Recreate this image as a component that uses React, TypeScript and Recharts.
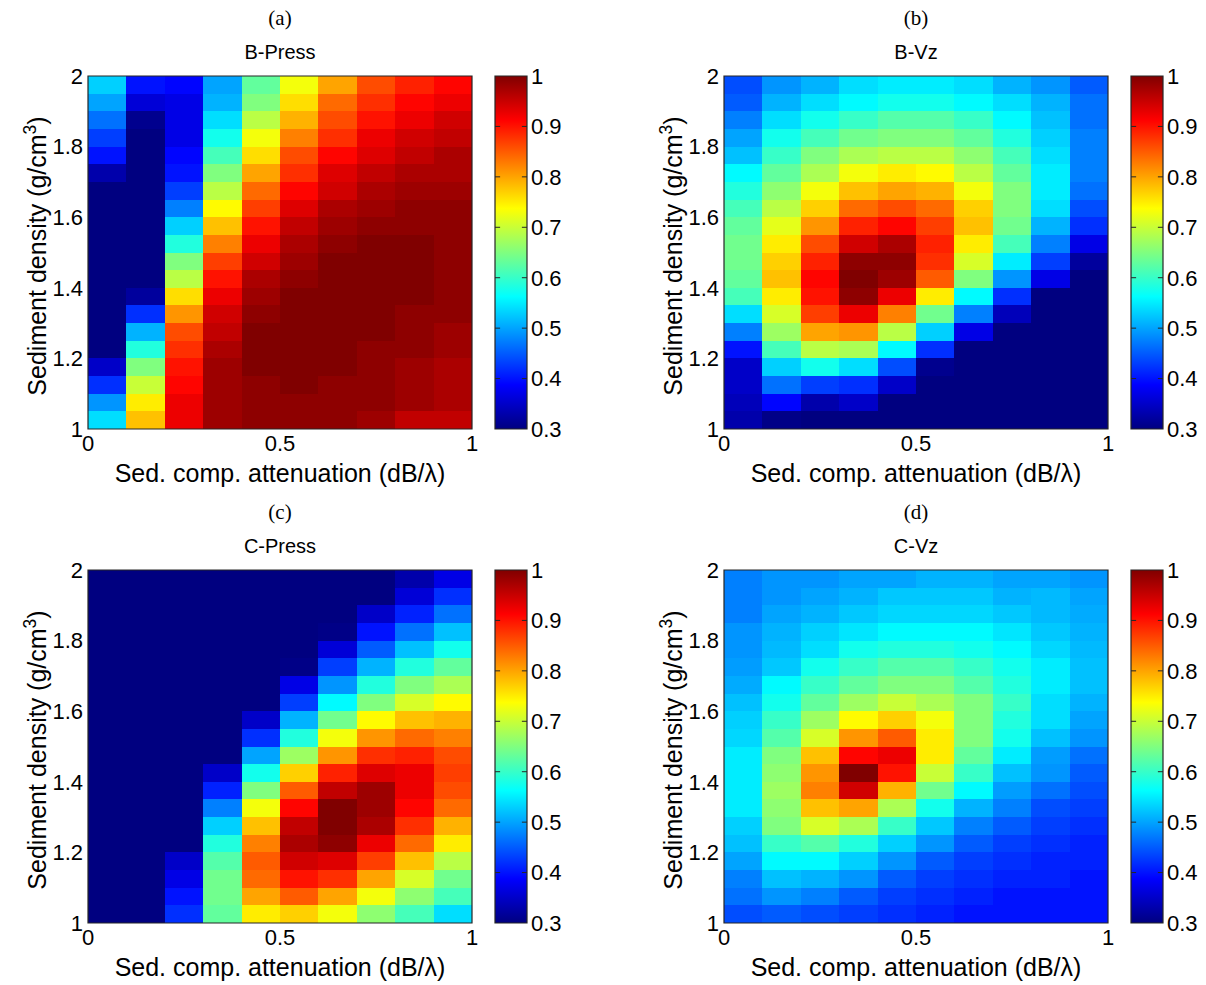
import { ComposedChart, XAxis, YAxis, ReferenceArea, ReferenceLine } from "recharts";

// column edges (sed. comp. attenuation, dB/lambda) and row edges (density, g/cm3, top -> bottom)
const attenuationEdges = [0, 0.1, 0.2, 0.3, 0.4, 0.5, 0.6, 0.7, 0.8, 0.9, 1];
const densityEdges = [2, 1.95, 1.9, 1.85, 1.8, 1.75, 1.7, 1.65, 1.6, 1.55, 1.5, 1.45, 1.4, 1.35, 1.3, 1.25, 1.2, 1.15, 1.1, 1.05, 1];

const xTicks = [0, 0.5, 1];
const yTicks = [1, 1.2, 1.4, 1.6, 1.8, 2];
const cbarTicks = [0.3, 0.4, 0.5, 0.6, 0.7, 0.8, 0.9, 1];

// normalised correlation, rows from density 2 (top) down to density 1 (bottom)
const bPress = [
  [0.53, 0.4, 0.39, 0.5, 0.63, 0.73, 0.8, 0.86, 0.89, 0.91],
  [0.5, 0.36, 0.37, 0.51, 0.65, 0.76, 0.84, 0.88, 0.91, 0.925],
  [0.465, 0.31, 0.37, 0.54, 0.69, 0.79, 0.86, 0.9, 0.925, 0.945],
  [0.43, 0.3, 0.37, 0.575, 0.73, 0.825, 0.88, 0.925, 0.945, 0.955],
  [0.4, 0.3, 0.39, 0.61, 0.76, 0.86, 0.91, 0.935, 0.955, 0.97],
  [0.33, 0.3, 0.4, 0.65, 0.8, 0.88, 0.935, 0.955, 0.97, 0.97],
  [0.3, 0.3, 0.43, 0.69, 0.84, 0.91, 0.945, 0.97, 0.98, 0.98],
  [0.3, 0.3, 0.475, 0.74, 0.87, 0.935, 0.97, 0.98, 0.99, 0.99],
  [0.3, 0.3, 0.53, 0.78, 0.9, 0.955, 0.98, 0.99, 0.99, 0.99],
  [0.3, 0.3, 0.585, 0.825, 0.925, 0.97, 0.99, 1, 1, 0.99],
  [0.3, 0.3, 0.65, 0.87, 0.945, 0.98, 1, 1, 1, 0.99],
  [0.3, 0.3, 0.69, 0.9, 0.97, 0.99, 1, 1, 1, 0.99],
  [0.3, 0.32, 0.76, 0.925, 0.98, 1, 1, 1, 1, 0.99],
  [0.3, 0.42, 0.81, 0.945, 0.99, 1, 1, 1, 0.99, 0.99],
  [0.3, 0.51, 0.86, 0.955, 1, 1, 1, 1, 0.99, 0.98],
  [0.3, 0.585, 0.88, 0.97, 1, 1, 1, 0.99, 0.99, 0.98],
  [0.35, 0.65, 0.9, 0.98, 1, 1, 1, 0.99, 0.98, 0.97],
  [0.42, 0.7, 0.91, 0.98, 0.99, 1, 0.99, 0.99, 0.98, 0.97],
  [0.49, 0.75, 0.925, 0.98, 0.99, 0.99, 0.99, 0.99, 0.98, 0.97],
  [0.54, 0.78, 0.925, 0.98, 0.99, 0.99, 0.99, 0.98, 0.955, 0.955],
];

const bVz = [
  [0.44, 0.49, 0.51, 0.54, 0.55, 0.55, 0.54, 0.51, 0.49, 0.45],
  [0.45, 0.51, 0.54, 0.56, 0.575, 0.575, 0.56, 0.54, 0.51, 0.465],
  [0.475, 0.54, 0.575, 0.6, 0.62, 0.62, 0.6, 0.56, 0.52, 0.465],
  [0.5, 0.575, 0.61, 0.64, 0.65, 0.65, 0.63, 0.585, 0.53, 0.475],
  [0.52, 0.6, 0.65, 0.68, 0.69, 0.69, 0.66, 0.61, 0.54, 0.475],
  [0.56, 0.63, 0.68, 0.73, 0.75, 0.74, 0.69, 0.63, 0.55, 0.475],
  [0.585, 0.66, 0.73, 0.78, 0.8, 0.79, 0.73, 0.65, 0.55, 0.465],
  [0.61, 0.69, 0.77, 0.84, 0.86, 0.84, 0.77, 0.65, 0.54, 0.44],
  [0.63, 0.72, 0.81, 0.89, 0.91, 0.87, 0.78, 0.64, 0.51, 0.42],
  [0.64, 0.75, 0.86, 0.945, 0.97, 0.89, 0.75, 0.61, 0.475, 0.37],
  [0.64, 0.77, 0.89, 0.99, 0.99, 0.88, 0.71, 0.55, 0.43, 0.32],
  [0.63, 0.78, 0.91, 1, 0.98, 0.85, 0.65, 0.49, 0.37, 0.3],
  [0.61, 0.75, 0.9, 0.99, 0.925, 0.75, 0.56, 0.42, 0.3, 0.3],
  [0.54, 0.71, 0.87, 0.925, 0.825, 0.64, 0.475, 0.34, 0.3, 0.3],
  [0.475, 0.67, 0.8, 0.81, 0.69, 0.53, 0.37, 0.3, 0.3, 0.3],
  [0.4, 0.61, 0.69, 0.68, 0.56, 0.42, 0.3, 0.3, 0.3, 0.3],
  [0.35, 0.53, 0.575, 0.54, 0.44, 0.31, 0.3, 0.3, 0.3, 0.3],
  [0.35, 0.465, 0.43, 0.42, 0.35, 0.3, 0.3, 0.3, 0.3, 0.3],
  [0.34, 0.39, 0.33, 0.35, 0.3, 0.3, 0.3, 0.3, 0.3, 0.3],
  [0.33, 0.305, 0.3, 0.3, 0.3, 0.3, 0.3, 0.3, 0.3, 0.3],
];

const cPress = [
  [0.3, 0.3, 0.3, 0.3, 0.3, 0.3, 0.3, 0.3, 0.33, 0.37],
  [0.3, 0.3, 0.3, 0.3, 0.3, 0.3, 0.3, 0.3, 0.36, 0.42],
  [0.3, 0.3, 0.3, 0.3, 0.3, 0.3, 0.3, 0.35, 0.41, 0.465],
  [0.3, 0.3, 0.3, 0.3, 0.3, 0.3, 0.305, 0.4, 0.465, 0.52],
  [0.3, 0.3, 0.3, 0.3, 0.3, 0.3, 0.36, 0.45, 0.52, 0.575],
  [0.3, 0.3, 0.3, 0.3, 0.3, 0.305, 0.43, 0.51, 0.585, 0.63],
  [0.3, 0.3, 0.3, 0.3, 0.3, 0.37, 0.49, 0.585, 0.65, 0.68],
  [0.3, 0.3, 0.3, 0.3, 0.3, 0.43, 0.56, 0.65, 0.71, 0.74],
  [0.3, 0.3, 0.3, 0.3, 0.35, 0.51, 0.64, 0.74, 0.78, 0.79],
  [0.3, 0.3, 0.3, 0.3, 0.42, 0.585, 0.73, 0.81, 0.84, 0.825],
  [0.3, 0.3, 0.3, 0.3, 0.5, 0.67, 0.81, 0.88, 0.89, 0.86],
  [0.3, 0.3, 0.3, 0.35, 0.575, 0.77, 0.89, 0.935, 0.925, 0.87],
  [0.3, 0.3, 0.3, 0.41, 0.65, 0.85, 0.955, 0.98, 0.925, 0.86],
  [0.3, 0.3, 0.3, 0.475, 0.73, 0.91, 1, 0.98, 0.91, 0.84],
  [0.3, 0.3, 0.3, 0.53, 0.78, 0.955, 1, 0.97, 0.88, 0.79],
  [0.3, 0.3, 0.3, 0.585, 0.825, 0.97, 0.99, 0.925, 0.84, 0.75],
  [0.3, 0.3, 0.35, 0.62, 0.85, 0.945, 0.935, 0.87, 0.78, 0.69],
  [0.3, 0.3, 0.37, 0.64, 0.84, 0.9, 0.88, 0.8, 0.71, 0.64],
  [0.3, 0.3, 0.4, 0.64, 0.8, 0.85, 0.8, 0.73, 0.66, 0.61],
  [0.3, 0.3, 0.42, 0.63, 0.75, 0.77, 0.73, 0.66, 0.61, 0.54],
];

const cVz = [
  [0.475, 0.49, 0.49, 0.5, 0.5, 0.51, 0.51, 0.5, 0.5, 0.49],
  [0.475, 0.49, 0.5, 0.51, 0.525, 0.525, 0.525, 0.51, 0.515, 0.5],
  [0.475, 0.5, 0.51, 0.525, 0.535, 0.535, 0.535, 0.525, 0.515, 0.505],
  [0.49, 0.51, 0.53, 0.545, 0.56, 0.56, 0.56, 0.545, 0.525, 0.51],
  [0.49, 0.515, 0.54, 0.575, 0.585, 0.585, 0.575, 0.56, 0.535, 0.515],
  [0.495, 0.525, 0.575, 0.6, 0.62, 0.62, 0.6, 0.575, 0.55, 0.52],
  [0.505, 0.56, 0.6, 0.63, 0.65, 0.65, 0.62, 0.585, 0.55, 0.52],
  [0.52, 0.575, 0.63, 0.67, 0.7, 0.68, 0.65, 0.6, 0.54, 0.51],
  [0.53, 0.6, 0.67, 0.74, 0.77, 0.73, 0.65, 0.585, 0.54, 0.5],
  [0.535, 0.62, 0.71, 0.81, 0.85, 0.75, 0.65, 0.575, 0.52, 0.49],
  [0.55, 0.65, 0.78, 0.91, 0.925, 0.75, 0.63, 0.55, 0.495, 0.465],
  [0.55, 0.66, 0.81, 1, 0.9, 0.7, 0.6, 0.52, 0.49, 0.45],
  [0.55, 0.67, 0.825, 0.945, 0.79, 0.64, 0.56, 0.495, 0.465, 0.44],
  [0.55, 0.66, 0.78, 0.8, 0.68, 0.575, 0.51, 0.475, 0.44, 0.43],
  [0.53, 0.65, 0.71, 0.68, 0.6, 0.525, 0.475, 0.45, 0.43, 0.42],
  [0.52, 0.6, 0.62, 0.585, 0.53, 0.49, 0.45, 0.43, 0.42, 0.41],
  [0.5, 0.56, 0.56, 0.53, 0.49, 0.45, 0.43, 0.42, 0.41, 0.41],
  [0.475, 0.52, 0.51, 0.49, 0.45, 0.43, 0.42, 0.41, 0.41, 0.4],
  [0.465, 0.49, 0.475, 0.45, 0.43, 0.42, 0.41, 0.4, 0.4, 0.4],
  [0.44, 0.45, 0.44, 0.43, 0.42, 0.41, 0.4, 0.4, 0.4, 0.4],
];

const SANS = "Arial, 'Liberation Sans', Helvetica, sans-serif";
const SERIF = "'Times New Roman', 'Liberation Serif', serif";
const CMIN = 0.3;
const CMAX = 1;

// MATLAB jet colormap
function jet(v: number) {
  const t = Math.min(1, Math.max(0, (v - CMIN) / (CMAX - CMIN)));
  const c = (x: number) => Math.round(255 * Math.min(1, Math.max(0, x)));
  const r = c(Math.min(4 * t - 1.5, -4 * t + 4.5));
  const g = c(Math.min(4 * t - 0.5, -4 * t + 3.5));
  const b = c(Math.min(4 * t + 0.5, -4 * t + 2.5));
  return `rgb(${r},${g},${b})`;
}

const cellShape = (fill: string) => (p: any) => (
  <rect x={p.x} y={p.y} width={p.width} height={p.height} fill={fill} shapeRendering="crispEdges" />
);

interface PanelProps {
  id: string;
  letter: string;
  title: string;
  grid: number[][];
  left: number; // plot-area left
  top: number; // plot-area top
}

function Panel({ id, letter, title, grid, left, top }: PanelProps) {
  const tickStyle = { fontSize: 22, fill: "#000", fontFamily: SANS };
  return (
    <>
      <div style={{ position: "absolute", left: left + 192, top: top - 58, transform: "translate(-50%,-50%)", fontFamily: SERIF, fontSize: 21, whiteSpace: "nowrap" }}>
        {letter}
      </div>
      <div style={{ position: "absolute", left: left + 192, top: top - 24, transform: "translate(-50%,-50%)", fontFamily: SANS, fontSize: 20, whiteSpace: "nowrap" }}>
        {title}
      </div>
      <div style={{ position: "absolute", left: left + 192, top: top + 397, transform: "translate(-50%,-50%)", fontFamily: SANS, fontSize: 25, whiteSpace: "nowrap" }}>
        Sed. comp. attenuation (dB/λ)
      </div>
      <div style={{ position: "absolute", left: left - 52, top: top + 180, transform: "translate(-50%,-50%) rotate(-90deg)", fontFamily: SANS, fontSize: 25, whiteSpace: "nowrap" }}>
        Sediment density (g/cm<span style={{ fontSize: "0.7em", verticalAlign: "super" }}>3</span>)
      </div>

      <div style={{ position: "absolute", left: left - 88, top: top - 76 }}>
        <ComposedChart width={480} height={459} margin={{ top: 76, right: 8, bottom: 0, left: 0 }}>
          <XAxis type="number" dataKey="x" domain={[0, 1]} ticks={xTicks} allowDataOverflow height={30}
            axisLine={false} tickLine={false} tickSize={4} tickMargin={2} tick={tickStyle}
            tickFormatter={(v) => String(v)} />
          <YAxis type="number" dataKey="y" domain={[1, 2]} ticks={yTicks} allowDataOverflow width={88}
            axisLine={false} tickLine={false} tickSize={3} tickMargin={2} tick={tickStyle}
            tickFormatter={(v) => String(v)} />
          {grid.map((row, r) =>
            row.map((v, c) => (
              <ReferenceArea
                key={`${id}-${r}-${c}`}
                x1={attenuationEdges[c]}
                x2={attenuationEdges[c + 1]}
                y1={densityEdges[r + 1]}
                y2={densityEdges[r]}
                shape={cellShape(jet(v))}
              />
            ))
          )}
          <ReferenceArea x1={0} x2={1} y1={1} y2={2} fill="none" fillOpacity={0} stroke="#262626" strokeWidth={1.2} />
        </ComposedChart>
      </div>

      <div style={{ position: "absolute", left: left + 407 - 15, top: top - 76 }}>
        <ComposedChart width={100} height={459} margin={{ top: 76, right: 8, bottom: 30, left: 15 }}>
          <defs>
            <linearGradient id={`jet-${id}`} x1="0" y1="1" x2="0" y2="0">
              <stop offset="0" stopColor={jet(0.3)} />
              <stop offset="0.125" stopColor={jet(0.3875)} />
              <stop offset="0.375" stopColor={jet(0.5625)} />
              <stop offset="0.625" stopColor={jet(0.7375)} />
              <stop offset="0.875" stopColor={jet(0.9125)} />
              <stop offset="1" stopColor={jet(1)} />
            </linearGradient>
          </defs>
          <XAxis type="number" dataKey="x" domain={[0, 1]} hide allowDataOverflow />
          <YAxis type="number" dataKey="y" orientation="right" domain={[CMIN, CMAX]} ticks={cbarTicks} allowDataOverflow
            width={45} axisLine={false} tickLine={false} tickSize={2} tickMargin={2} tick={tickStyle}
            tickFormatter={(v) => String(v)} />
          <ReferenceArea x1={0} x2={1} y1={CMIN} y2={CMAX} fill={`url(#jet-${id})`} fillOpacity={1} stroke="#262626" strokeWidth={1.2} />
          {cbarTicks.slice(1, -1).map((t) => (
            <ReferenceLine key={`l-${t}`} segment={[{ x: 0, y: t }, { x: 0.16, y: t }]} stroke="#262626" />
          ))}
          {cbarTicks.slice(1, -1).map((t) => (
            <ReferenceLine key={`r-${t}`} segment={[{ x: 0.84, y: t }, { x: 1, y: t }]} stroke="#262626" />
          ))}
        </ComposedChart>
      </div>
    </>
  );
}

export default function App() {
  return (
    <div style={{ position: "absolute", left: 0, top: 0, width: 1206, height: 985, background: "#fff" }}>
      <Panel id="a" letter="(a)" title="B-Press" grid={bPress} left={88} top={76} />
      <Panel id="b" letter="(b)" title="B-Vz" grid={bVz} left={724} top={76} />
      <Panel id="c" letter="(c)" title="C-Press" grid={cPress} left={88} top={570} />
      <Panel id="d" letter="(d)" title="C-Vz" grid={cVz} left={724} top={570} />
    </div>
  );
}
